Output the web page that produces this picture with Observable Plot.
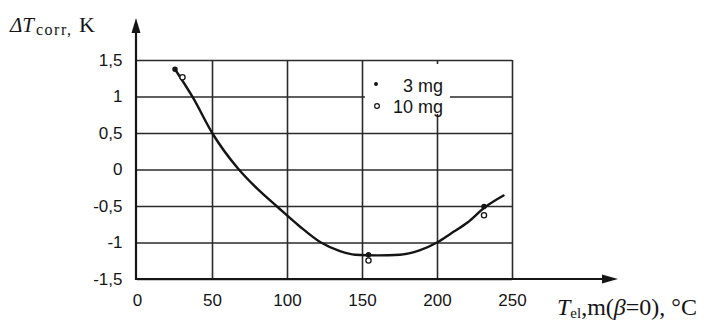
<!DOCTYPE html>
<html>
<head>
<meta charset="utf-8">
<script src="https://cdn.jsdelivr.net/npm/d3@7"></script>
<script src="https://cdn.jsdelivr.net/npm/@observablehq/plot@0.6"></script>
<style>
  html, body { margin: 0; padding: 0; background: #fff; }
  #chart svg { display: block; }
</style>
</head>
<body>
<div id="chart"></div>
<script>
// ---- data ----
const xTicks = [0, 50, 100, 150, 200, 250];
const yTicks = [-1.5, -1, -0.5, 0, 0.5, 1, 1.5];
const yTickLabels = ["-1,5", "-1", "-0,5", "0", "0,5", "1", "1,5"];

// fitted curve
const curveX = [25, 37, 50, 67, 80, 93, 108, 122, 135, 145, 160, 175, 188, 200, 209, 220, 231, 244];
const curveY = [1.38, 0.99, 0.5, 0.02, -0.26, -0.5, -0.77, -0.99, -1.11, -1.16, -1.17, -1.16, -1.1, -0.99, -0.87, -0.72, -0.52, -0.35];

// measured points
const mg3X = [25, 154, 231];
const mg3Y = [1.38, -1.16, -0.5];
const mg10X = [30, 154, 231];
const mg10Y = [1.27, -1.24, -0.62];

const legendLabels = ["3 mg", "10 mg"];

// ---- build ----
const curve = curveX.map((x, i) => ({x, y: curveY[i]}));
const mg3 = mg3X.map((x, i) => ({x, y: mg3Y[i]}));
const mg10 = mg10X.map((x, i) => ({x, y: mg10Y[i]}));
const yLab = new Map(yTicks.map((t, i) => [t, yTickLabels[i]]));

const ink = "#151515";
const grid = "#2a2a2a";

const plot = Plot.plot({
  width: 709,
  height: 325,
  marginLeft: 137,
  marginRight: 197,
  marginTop: 60,
  marginBottom: 46,
  style: {fontFamily: "'Liberation Sans', Arial, sans-serif", fontSize: "17px", color: ink, background: "#fff", overflow: "visible"},
  x: {domain: [0, 250]},
  y: {domain: [-1.5, 1.5]},
  marks: [
    Plot.ruleY(yTicks, {stroke: grid, strokeWidth: 1.6}),
    Plot.ruleX(xTicks.filter(d => d > 0), {stroke: grid, strokeWidth: 1.6}),
    Plot.axisX(xTicks, {tickSize: 0, tickPadding: 14, tickFormat: d => String(d), fontSize: 17, label: null}),
    Plot.axisY(yTicks, {tickSize: 0, tickPadding: 15, tickFormat: d => yLab.get(d), fontSize: 17, label: null}),
    Plot.line(curve, {x: "x", y: "y", curve: "monotone-x", stroke: ink, strokeWidth: 2.4}),
    Plot.dot(mg3, {x: "x", y: "y", r: 2, fill: ink, stroke: ink}),
    Plot.dot(mg10, {x: "x", y: "y", r: 2.6, fill: "#fff", stroke: ink, strokeWidth: 1.3})
  ]
});

document.getElementById("chart").appendChild(plot);

// ---- axes with arrows, titles, legend ----
const svg = d3.select(plot);
const sx = plot.scale("x"), sy = plot.scale("y");
const x0 = sx.apply(0) - 1, y0 = sy.apply(-1.5);
const yTopPx = 18, xEndPx = 618;

const deco = svg.append("g").attr("text-anchor", "start");
// y axis line + arrow
deco.append("line").attr("x1", x0).attr("x2", x0).attr("y1", y0 + 1).attr("y2", yTopPx + 8)
  .attr("stroke", ink).attr("stroke-width", 2.2);
deco.append("path").attr("d", `M${x0},${yTopPx} L${x0 - 4.5},${yTopPx + 15} L${x0 + 4.5},${yTopPx + 15} Z`).attr("fill", ink);
// x axis line + arrow
deco.append("line").attr("x1", x0 - 1).attr("x2", xEndPx - 8).attr("y1", y0).attr("y2", y0)
  .attr("stroke", ink).attr("stroke-width", 2.2);
deco.append("path").attr("d", `M${xEndPx},${y0} L${xEndPx - 16},${y0 - 4.5} L${xEndPx - 16},${y0 + 4.5} Z`).attr("fill", ink);

// y title
const serif = "'Liberation Serif', 'Times New Roman', serif";
const yt = deco.append("g").attr("font-family", serif).attr("fill", ink).attr("text-anchor", "start");
yt.append("text").attr("x", 10).attr("y", 32).attr("font-size", 21).attr("font-style", "italic").text("\u0394T");
yt.append("text").attr("x", 36).attr("y", 35).attr("font-size", 16).attr("letter-spacing", 1.5).text("corr,");
yt.append("text").attr("x", 79).attr("y", 32).attr("font-size", 22).text("K");

// x title
const xt = deco.append("text").attr("x", 557).attr("y", 315).attr("text-anchor", "start")
  .attr("font-family", serif).attr("font-size", 24).attr("fill", ink);
xt.append("tspan").attr("font-style", "italic").text("T");
xt.append("tspan").attr("font-size", 15).attr("dy", 3).text("el");
xt.append("tspan").attr("dy", -3).text(",m(");
xt.append("tspan").attr("font-style", "italic").text("\u03B2");
xt.append("tspan").text("=0), \u00B0C");

// legend
const lg = deco.append("g").attr("font-family", "'Liberation Sans', Arial, sans-serif").attr("font-size", 18).attr("fill", ink);
lg.append("rect").attr("x", 365).attr("y", 64).attr("width", 85).attr("height", 50).attr("fill", "#fff");
lg.append("circle").attr("cx", 376).attr("cy", 84).attr("r", 2).attr("fill", ink);
lg.append("circle").attr("cx", 377).attr("cy", 106).attr("r", 2.4).attr("fill", "#fff").attr("stroke", ink).attr("stroke-width", 1.2);
lg.append("text").attr("x", 443).attr("y", 92).attr("text-anchor", "end").text(legendLabels[0]);
lg.append("text").attr("x", 443).attr("y", 113).attr("text-anchor", "end").text(legendLabels[1]);
</script>
</body>
</html>
